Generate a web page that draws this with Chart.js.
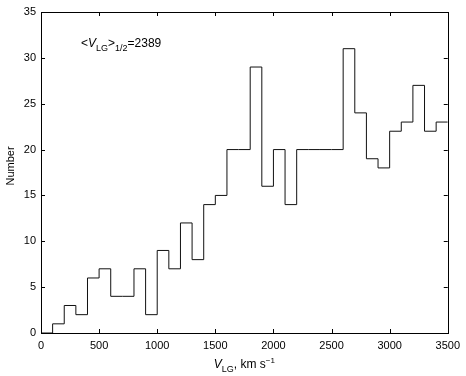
<!DOCTYPE html>
<html>
<head>
<meta charset="utf-8">
<script src="https://cdn.jsdelivr.net/npm/chart.js@4"></script>
<style>
  html, body { margin: 0; padding: 0; background: #fff; }
  #wrap { width: 466px; height: 376px; }
</style>
</head>
<body>
<div id="wrap"><canvas id="histChart" width="466" height="376"></canvas></div>
<script>
// left edges of the 100 km/s bins
const binEdges = [0, 100, 200, 300, 400, 500, 600, 700, 800, 900,
  1000, 1100, 1200, 1300, 1400, 1500, 1600, 1700, 1800, 1900,
  2000, 2100, 2200, 2300, 2400, 2500, 2600, 2700, 2800, 2900,
  3000, 3100, 3200, 3300, 3400];
const counts = [0, 1, 3, 2, 6, 7, 4, 4, 7, 2,
  9, 7, 12, 8, 14, 15, 20, 20, 29, 16,
  20, 14, 20, 20, 20, 20, 31, 24, 19, 18,
  22, 23, 27, 22, 23];
const binWidth = 100;
const xTicks = [0, 500, 1000, 1500, 2000, 2500, 3000, 3500];
const yTicks = [0, 5, 10, 15, 20, 25, 30, 35];
const medianLabel = '2389';

const FONT = '"Liberation Sans", Arial, Helvetica, sans-serif';

// step points: each bin's left edge, plus the right edge of the last bin
const points = binEdges.map((x, i) => ({ x: x, y: counts[i] }));
points.push({ x: binEdges[binEdges.length - 1] + binWidth, y: counts[counts.length - 1] });

// draws subscripted/superscripted text parts left to right
function drawParts(ctx, parts, x, y) {
  parts.forEach(p => {
    ctx.font = (p.italic ? 'italic ' : '') + p.size + 'px ' + FONT;
    ctx.fillText(p.t, x, y + (p.dy || 0));
    x += ctx.measureText(p.t).width;
  });
  return x;
}

const framePlugin = {
  id: 'frame',
  afterDraw(chart) {
    const ctx = chart.ctx;
    const a = chart.chartArea;
    const xs = chart.scales.x, ys = chart.scales.y;
    ctx.save();
    ctx.strokeStyle = '#000';
    ctx.lineWidth = 1;
    ctx.strokeRect(Math.round(a.left) + 0.5, Math.round(a.top) + 0.5,
      Math.round(a.right - a.left), Math.round(a.bottom - a.top));
    const len = 4;
    ctx.beginPath();
    xTicks.forEach(v => {
      const px = Math.round(xs.getPixelForValue(v)) + 0.5;
      ctx.moveTo(px, a.bottom); ctx.lineTo(px, a.bottom - len);
      ctx.moveTo(px, a.top); ctx.lineTo(px, a.top + len);
    });
    yTicks.forEach(v => {
      const py = Math.round(ys.getPixelForValue(v)) + 0.5;
      ctx.moveTo(a.left, py); ctx.lineTo(a.left + len, py);
      ctx.moveTo(a.right, py); ctx.lineTo(a.right - len, py);
    });
    ctx.stroke();

    ctx.fillStyle = '#000';
    ctx.textAlign = 'left';
    ctx.textBaseline = 'alphabetic';
    // median annotation
    drawParts(ctx, [
      { t: '<', size: 12 },
      { t: 'V', size: 12, italic: true },
      { t: 'LG', size: 9, dy: 4 },
      { t: '>', size: 12 },
      { t: '1/2', size: 9, dy: 4 },
      { t: '=' + medianLabel, size: 12 }
    ], 81, 47);

    // x axis title
    const xParts = [
      { t: 'V', size: 12, italic: true },
      { t: 'LG', size: 9, dy: 4 },
      { t: ', km s', size: 12 },
      { t: '\u22121', size: 8, dy: -5 }
    ];
    let w = 0;
    xParts.forEach(p => {
      ctx.font = (p.italic ? 'italic ' : '') + p.size + 'px ' + FONT;
      w += ctx.measureText(p.t).width;
    });
    drawParts(ctx, xParts, (a.left + a.right) / 2 - w / 2, 368);

    // y axis title
    ctx.translate(14, 166);
    ctx.rotate(-Math.PI / 2);
    ctx.textAlign = 'center';
    ctx.font = '11px ' + FONT;
    ctx.fillText('Number', 0, 0);
    ctx.restore();
  }
};

const ctx = document.getElementById('histChart').getContext('2d');
const histChart = new Chart(ctx, {
  type: 'line',
  data: {
    datasets: [{
      data: points,
      stepped: 'before',
      borderColor: '#111',
      borderWidth: 1,
      pointRadius: 0,
      fill: false
    }]
  },
  options: {
    responsive: false,
    animation: false,
    layout: { padding: { left: 0, top: 12, right: 18, bottom: 0 } },
    plugins: {
      legend: { display: false },
      tooltip: { enabled: false }
    },
    scales: {
      x: {
        type: 'linear',
        min: 0,
        max: 3500,
        afterFit: s => { s.height = 43; },
        afterBuildTicks: s => { s.ticks = xTicks.map(v => ({ value: v })); },
        grid: { display: false, drawTicks: false },
        border: { display: false },
        ticks: {
          padding: 6,
          color: '#000',
          maxRotation: 0,
          callback: v => String(v),
          font: { family: FONT, size: 11 }
        }
      },
      y: {
        min: 0,
        max: 35,
        afterFit: s => { s.width = 41; },
        afterBuildTicks: s => { s.ticks = yTicks.map(v => ({ value: v })); },
        grid: { display: false, drawTicks: false },
        border: { display: false },
        ticks: {
          padding: 5,
          color: '#000',
          callback: v => String(v),
          font: { family: FONT, size: 11 }
        }
      }
    }
  },
  plugins: [framePlugin]
});
</script>
</body>
</html>
